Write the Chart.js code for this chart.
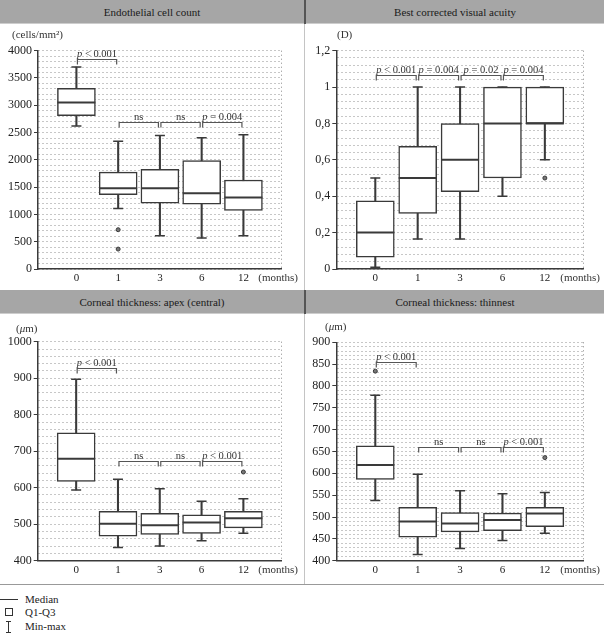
<!DOCTYPE html>
<html>
<head>
<meta charset="utf-8">
<script src="https://cdn.jsdelivr.net/npm/chart.js@4.4.1/dist/chart.umd.min.js"></script>
<style>
body{margin:0;background:#fff;width:604px;height:639px;position:relative;overflow:hidden;font-family:"Liberation Serif",serif;color:#222;}
.head{position:absolute;height:24px;background:#a6a6a6;border-bottom:1px solid #cdcdcd;font-size:11px;line-height:24px;text-align:center;box-sizing:border-box;color:#1a1a1a}
canvas{position:absolute}
.leg{position:absolute;left:25px;font-size:11px;line-height:12px;color:#222}
</style>
</head>
<body>
<div class="head" style="left:0;top:0;width:304px">Endothelial cell count</div>
<div class="head" style="left:306px;top:0;width:298px">Best corrected visual acuity</div>
<div class="head" style="left:0;top:290px;width:304px">Corneal thickness: apex (central)</div>
<div class="head" style="left:306px;top:290px;width:298px">Corneal thickness: thinnest</div>
<div style="position:absolute;left:304px;top:0;width:2px;height:24px;background:#555"></div>
<div style="position:absolute;left:304px;top:290px;width:2px;height:24px;background:#555"></div>
<div style="position:absolute;left:304px;top:24px;width:1px;height:266px;background:#c4c4c4"></div>
<div style="position:absolute;left:304px;top:314px;width:1px;height:270px;background:#c4c4c4"></div>
<div style="position:absolute;left:0;top:584px;width:604px;height:1px;background:#999"></div>

<canvas id="c1" width="302" height="266" style="left:0;top:24px"></canvas>
<canvas id="c2" width="302" height="266" style="left:302px;top:24px"></canvas>
<canvas id="c3" width="302" height="270" style="left:0;top:314px"></canvas>
<canvas id="c4" width="302" height="270" style="left:302px;top:314px"></canvas>

<!-- legend -->
<div style="position:absolute;left:0;top:599px;width:18px;border-top:1px solid #333"></div>
<div class="leg" style="top:593px">Median</div>
<div style="position:absolute;left:5px;top:608px;width:6px;height:6px;border:1px solid #333"></div>
<div class="leg" style="top:606px">Q1-Q3</div>
<div style="position:absolute;left:6px;top:621px;width:5px;height:10px;border-top:1px solid #333;border-bottom:1px solid #333"></div>
<div style="position:absolute;left:8px;top:621px;width:1px;height:11px;background:#333"></div>
<div class="leg" style="top:620px">Min-max</div>

<script>
const months = ["0", "1", "3", "6", "12"];

/* Endothelial cell count */
const ecMin = [2620, 1110, 610, 570, 610];
const ecQ1 = [2810, 1360, 1205, 1190, 1075];
const ecMed = [3050, 1480, 1480, 1390, 1310];
const ecQ3 = [3310, 1775, 1825, 1985, 1630];
const ecMax = [3700, 2340, 2445, 2405, 2460];
const ecOutX = [1, 1];
const ecOutY = [720, 365];
const ecBrackets = [[0, 1, 3850, "p < 0.001"], [1, 2, 2700, "ns"], [2, 3, 2700, "ns"], [3, 4, 2700, "p = 0.004"]];

/* Best corrected visual acuity */
const vaMin = [0.01, 0.165, 0.165, 0.4, 0.6];
const vaQ1 = [0.065, 0.305, 0.425, 0.5, 0.8];
const vaMed = [0.2, 0.5, 0.6, 0.8, 0.8];
const vaQ3 = [0.375, 0.675, 0.8, 1.0, 1.0];
const vaMax = [0.5, 1.0, 1.0, 1.0, 1.0];
const vaOutX = [4];
const vaOutY = [0.5];
const vaBrackets = [[0, 1, 1.065, "p < 0.001"], [1, 2, 1.065, "p = 0.004"], [2, 3, 1.065, "p = 0.02"], [3, 4, 1.065, "p = 0.004"]];

/* Corneal thickness: apex */
const apMin = [594, 436, 440, 455, 475];
const apQ1 = [617, 467, 472, 475, 490];
const apMed = [679, 501, 497, 505, 516];
const apQ3 = [750, 535, 530, 526, 535];
const apMax = [897, 623, 597, 563, 570];
const apOutX = [4];
const apOutY = [643];
const apBrackets = [[0, 1, 928, "p < 0.001"], [1, 2, 674, "ns"], [2, 3, 674, "ns"], [3, 4, 674, "p < 0.001"]];

/* Corneal thickness: thinnest */
const thMin = [538, 414, 428, 446, 463];
const thQ1 = [586, 454, 466, 469, 478];
const thMed = [619, 490, 485, 493, 508];
const thQ3 = [663, 522, 510, 509, 522];
const thMax = [779, 598, 560, 553, 556];
const thOutX = [0, 4];
const thOutY = [834, 636];
const thBrackets = [[0, 1, 856, "p < 0.001"], [1, 2, 661, "ns"], [2, 3, 661, "ns"], [3, 4, 661, "p < 0.001"]];

const dark = "#3a3a3a";
const FONT = "Liberation Serif";

// split text into italic / normal runs (leading p and the mu are italic)
function runs(s) {
    let out = [];
    [...s].forEach((ch, i) => {
        const it = ch === "μ" || (ch === "p" && i === 0);
        if (out.length && out[out.length - 1][1] === it) out[out.length - 1][0] += ch;
        else out.push([ch, it]);
    });
    return out;
}

function drawRich(ctx, s, x, y, align, size) {
    const parts = runs(s);
    let total = 0;
    parts.forEach(p => {
        ctx.font = (p[1] ? "italic " : "") + size + "px '" + FONT + "'";
        p.push(ctx.measureText(p[0]).width);
        total += p[2];
    });
    let cx = align === "center" ? x - total / 2 : align === "right" ? x - total : x;
    ctx.textAlign = "left";
    parts.forEach(p => {
        ctx.font = (p[1] ? "italic " : "") + size + "px '" + FONT + "'";
        ctx.fillText(p[0], cx, y);
        cx += p[2];
    });
}

const panelDeco = {
    id: "panelDeco",
    beforeDatasetsDraw(chart) {
        const {ctx, chartArea: a} = chart;
        ctx.save();
        ctx.strokeStyle = "#8a8a8a";
        ctx.lineWidth = 1;
        ctx.setLineDash([1, 3]);
        ctx.beginPath();
        ctx.moveTo(Math.round(a.right) + 0.5, a.top);
        ctx.lineTo(Math.round(a.right) + 0.5, a.bottom);
        ctx.stroke();
        ctx.restore();
    },
    afterDatasetsDraw(chart, args, opts) {
        const ctx = chart.ctx;
        const xs = chart.scales.x, ys = chart.scales.y;
        ctx.save();
        ctx.strokeStyle = "#555";
        ctx.fillStyle = "#333";
        ctx.lineWidth = 1.2;
        ctx.textBaseline = "alphabetic";
        opts.brackets.forEach(b => {
            const x1 = xs.getPixelForValue(b[0]) + 1;
            const x2 = xs.getPixelForValue(b[1]) - 1.5;
            const y = Math.round(ys.getPixelForValue(b[2])) + 0.5;
            ctx.beginPath();
            ctx.moveTo(x1, y + 5);
            ctx.lineTo(x1, y);
            ctx.lineTo(x2, y);
            ctx.lineTo(x2, y + 5);
            ctx.stroke();
            drawRich(ctx, b[3], (x1 + x2) / 2, y - 3, "center", 10.5);
        });
        // unit label and months label
        ctx.textBaseline = "middle";
        drawRich(ctx, opts.unit, opts.unitX, opts.unitY, "left", 11);
        drawRich(ctx, "(months)", chart.width - 4, xs.top + 3 + 6.6, "right", 11);
        ctx.restore();
    }
};

function makePanel(id, p) {
    const boxes = p.q1.map((v, i) => ({x: i, y: [v, p.q3[i]]}));
    const whisk = p.min.map((v, i) => ({x: i, y: [v, p.max[i]]}));
    const meds = p.med.map((v, i) => ({x: i, y: v}));
    const caps = p.min.map((v, i) => ({x: i, y: v})).concat(p.max.map((v, i) => ({x: i, y: v})));
    const outs = p.outX.map((v, i) => ({x: v, y: p.outY[i]}));
    const isMajor = v => Math.abs(v / p.major - Math.round(v / p.major)) < 1e-6;

    new Chart(document.getElementById(id), {
        type: "bar",
        data: {
            datasets: [
                {type: "bar", data: whisk, backgroundColor: dark, borderWidth: 0, grouped: false,
                 maxBarThickness: 1.4, barPercentage: 1, categoryPercentage: 1, order: 5},
                {type: "bar", data: boxes, backgroundColor: "#fff", borderColor: dark, borderWidth: 1.5,
                 borderSkipped: false, grouped: false, maxBarThickness: 38, barPercentage: 1,
                 categoryPercentage: 1, order: 4},
                {type: "scatter", data: meds, pointStyle: "line", pointRadius: 19, pointBorderColor: dark,
                 pointBorderWidth: 2, order: 3},
                {type: "scatter", data: caps, pointStyle: "line", pointRadius: 5, pointBorderColor: dark,
                 pointBorderWidth: 1.5, order: 2},
                {type: "scatter", data: outs, pointStyle: "circle", pointRadius: 2, pointBackgroundColor: "#777",
                 pointBorderColor: dark, pointBorderWidth: 1, order: 1}
            ]
        },
        options: {
            responsive: false,
            animation: false,
            events: [],
            layout: {padding: {top: p.padTop, right: p.padRight, left: 0, bottom: 0}},
            plugins: {
                legend: {display: false},
                tooltip: {enabled: false},
                panelDeco: {brackets: p.brackets, unit: p.unit, unitX: p.unitX, unitY: p.unitY}
            },
            scales: {
                x: {
                    type: "linear",
                    offset: false,
                    min: -0.92,
                    max: 4.9,
                    afterBuildTicks: s => { s.ticks = months.map((m, i) => ({value: i})); },
                    afterFit: s => { s.height = p.xH; },
                    grid: {display: false, offset: false, drawTicks: false, tickLength: 0},
                    border: {display: true, color: dark, width: 1.5},
                    ticks: {callback: v => months[v], padding: 3, color: "#222",
                            font: {family: FONT, size: 11}, maxRotation: 0, autoSkip: false}
                },
                y: {
                    min: p.yMin,
                    max: p.yMax,
                    afterFit: s => { s.width = p.yW; },
                    grid: {color: "#8f8f8f", lineWidth: 1, tickLength: 4,
                           tickColor: c => isMajor(c.tick.value) ? dark : "rgba(0,0,0,0)"},
                    border: {display: true, color: dark, width: 1.5, dash: [1, 3]},
                    ticks: {stepSize: p.minor, maxTicksLimit: 1000, autoSkip: false, padding: 2, color: "#222",
                            font: {family: FONT, size: 12},
                            callback: v => isMajor(v) ? p.fmt(v) : ""}
                }
            }
        },
        plugins: [panelDeco]
    });
}

const intFmt = v => String(Math.round(v));
const commaFmt = v => String(+v.toFixed(1)).replace(".", ",");

makePanel("c1", {min: ecMin, q1: ecQ1, med: ecMed, q3: ecQ3, max: ecMax, outX: ecOutX, outY: ecOutY,
    brackets: ecBrackets, yMin: 0, yMax: 4000, minor: 100, major: 500, fmt: intFmt,
    padTop: 26.7, padRight: 12, yW: 38, xH: 20.7, unit: "(cells/mm²)", unitX: 12, unitY: 11});
makePanel("c2", {min: vaMin, q1: vaQ1, med: vaMed, q3: vaQ3, max: vaMax, outX: vaOutX, outY: vaOutY,
    brackets: vaBrackets, yMin: 0, yMax: 1.2, minor: 0.04, major: 0.2, fmt: commaFmt,
    padTop: 26.7, padRight: 15.3, yW: 34.3, xH: 20.7, unit: "(D)", unitX: 35, unitY: 11});
makePanel("c3", {min: apMin, q1: apQ1, med: apMed, q3: apQ3, max: apMax, outX: apOutX, outY: apOutY,
    brackets: apBrackets, yMin: 400, yMax: 1000, minor: 20, major: 100, fmt: intFmt,
    padTop: 27.7, padRight: 12, yW: 37.7, xH: 23.3, unit: "(μm)", unitX: 16, unitY: 15});
makePanel("c4", {min: thMin, q1: thQ1, med: thMed, q3: thQ3, max: thMax, outX: thOutX, outY: thOutY,
    brackets: thBrackets, yMin: 400, yMax: 900, minor: 10, major: 50, fmt: intFmt,
    padTop: 28.3, padRight: 16, yW: 34.3, xH: 23.3, unit: "(μm)", unitX: 23, unitY: 13});
</script>
</body>
</html>
